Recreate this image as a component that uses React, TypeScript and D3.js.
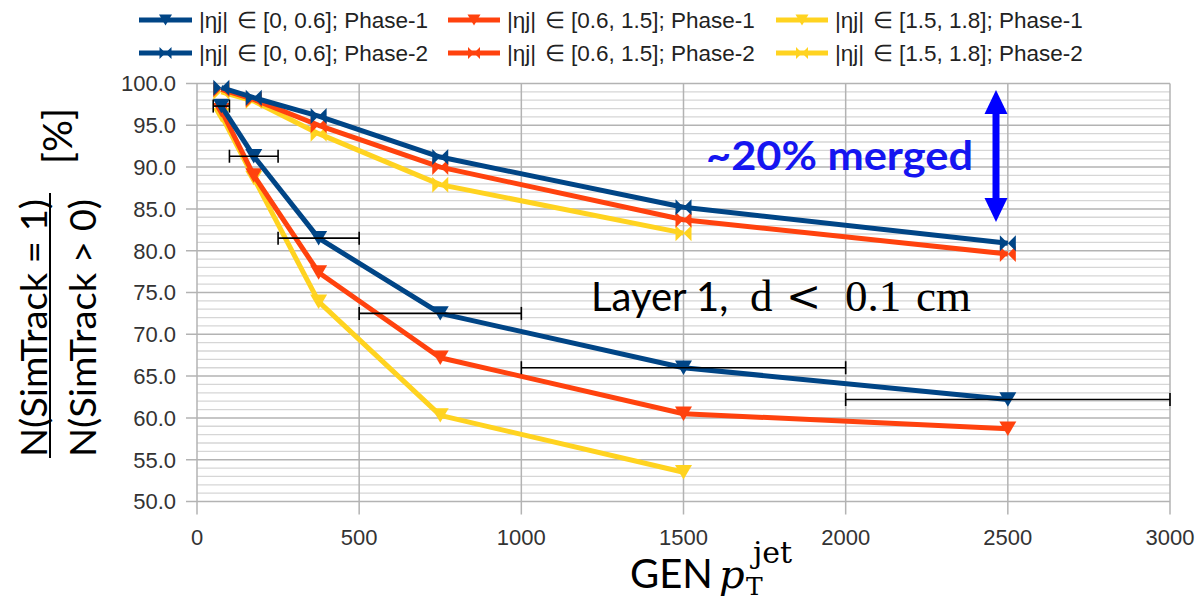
import React from "react";
import * as d3 from "d3";

// Generator-level jet pT bin centres and bin edges
const ptCentres = [75, 175, 375, 750, 1500, 2500];
const binLow = [50, 100, 250, 500, 1000, 2000];
const binHigh = [100, 250, 500, 1000, 2000, 3000];

// Fraction of clusters with exactly one SimTrack [%]
const phase1Central = [97.3, 91.3, 81.5, 72.5, 66.0, 62.2];
const phase1Mid = [96.8, 89.0, 77.4, 67.2, 60.5, 58.7];
const phase1Forward = [96.2, 88.7, 73.9, 60.3, 53.5];
const phase2Central = [99.5, 98.3, 96.1, 91.2, 85.2, 80.9];
const phase2Mid = [99.3, 98.1, 95.0, 90.0, 83.7, 79.6];
const phase2Forward = [99.0, 97.9, 94.0, 87.9, 82.1];

const etaRanges = ["[0, 0.6]", "[0.6, 1.5]", "[1.5, 1.8]"];
const phases = ["Phase-1", "Phase-2"];
const colours = ["#004586", "#ff420e", "#ffd320"];

const xTicks = [0, 500, 1000, 1500, 2000, 2500, 3000];
const yTicks = [50, 55, 60, 65, 70, 75, 80, 85, 90, 95, 100];

const W = 1199;
const H = 602;

const x = d3.scaleLinear().domain([0, 3000]).range([197, 1170]);
const y = d3.scaleLinear().domain([50, 100]).range([501.5, 83.5]);

type Pt = { x: number; y: number };
const toPts = (vals: number[]): Pt[] => vals.map((v, i) => ({ x: ptCentres[i], y: v }));

const line = d3
  .line<Pt>()
  .x((d) => x(d.x))
  .y((d) => y(d.y));

const triDown = (s: number) => `M${-s},${-s * 0.85}L${s},${-s * 0.85}L0,${s * 0.85}Z`;
const bowtie = (s: number) => `M${-s},${-s}L${s},${s}L${s},${-s}L${-s},${s}Z`;

const series = [
  { vals: phase1Forward, c: 2, phase: 0 },
  { vals: phase1Mid, c: 1, phase: 0 },
  { vals: phase1Central, c: 0, phase: 0 },
  { vals: phase2Forward, c: 2, phase: 1 },
  { vals: phase2Mid, c: 1, phase: 1 },
  { vals: phase2Central, c: 0, phase: 1 },
];

const legendLineX = [
  [139, 192],
  [448, 500],
  [776, 828],
];
const legendRowY = [20, 53];

export default function App() {
  const minorY = d3.range(50, 100.001, 1).filter((v) => Math.round(v) % 5 !== 0);

  return (
    <svg
      width={W}
      height={H}
      style={{ position: "absolute", left: 0, top: 0, background: "#fff" }}
      fontFamily="'Liberation Sans', Arial, sans-serif"
    >
      <rect width={W} height={H} fill="#fff" />

      {/* grid */}
      {minorY.map((v) => (
        <line key={"m" + v} x1={x(0)} x2={x(3000)} y1={y(v)} y2={y(v)} stroke="#d6d6d6" strokeWidth={1.3} />
      ))}
      {yTicks.map((v) => (
        <line key={"g" + v} x1={x(0) - 11} x2={x(3000)} y1={y(v)} y2={y(v)} stroke="#b3b3b3" strokeWidth={1.5} />
      ))}
      {xTicks.map((v) => (
        <line key={"v" + v} x1={x(v)} x2={x(v)} y1={y(100)} y2={y(50) + 13} stroke="#b3b3b3" strokeWidth={1.5} />
      ))}

      {/* tick labels */}
      {yTicks.map((v) => (
        <text key={"yl" + v} x={176} y={y(v)} dy="0.36em" textAnchor="end" fontSize={22} fill="#333">
          {v.toFixed(1)}
        </text>
      ))}
      {xTicks.map((v) => (
        <text key={"xl" + v} x={x(v)} y={537} dy="0.36em" textAnchor="middle" fontSize={22} fill="#333">
          {v}
        </text>
      ))}

      {/* series */}
      {series.map((s, i) => {
        const pts = toPts(s.vals);
        return (
          <g key={"s" + i}>
            <path d={line(pts) || ""} fill="none" stroke={colours[s.c]} strokeWidth={5} strokeLinejoin="round" />
            {pts.map((p, j) => (
              <path
                key={j}
                d={s.phase === 0 ? triDown(8.5) : bowtie(8)}
                transform={`translate(${x(p.x)},${y(p.y)})`}
                fill={colours[s.c]}
              />
            ))}
          </g>
        );
      })}

      {/* bin-width bars on the central Phase-1 series */}
      {phase1Central.map((v, i) => (
        <g key={"e" + i} stroke="#000" strokeWidth={1.6}>
          <line x1={x(binLow[i])} x2={x(binHigh[i])} y1={y(v)} y2={y(v)} />
          <line x1={x(binLow[i])} x2={x(binLow[i])} y1={y(v) - 6.5} y2={y(v) + 6.5} />
          <line x1={x(binHigh[i])} x2={x(binHigh[i])} y1={y(v) - 6.5} y2={y(v) + 6.5} />
        </g>
      ))}

      {/* legend */}
      {phases.map((ph, r) =>
        etaRanges.map((eta, c) => {
          const [lx1, lx2] = legendLineX[c];
          const ly = legendRowY[r];
          const mx = (lx1 + lx2) / 2;
          const tx = lx2 + 7;
          return (
            <g key={`lg${r}${c}`}>
              <line x1={lx1} x2={lx2} y1={ly} y2={ly} stroke={colours[c]} strokeWidth={5} />
              <path d={r === 0 ? triDown(6.5) : bowtie(6)} transform={`translate(${mx},${ly})`} fill={colours[c]} />
              <text y={ly} dy="0.36em" fontSize={22.5} fill="#222">
                <tspan x={tx}>|ηj|</tspan>
                <tspan x={tx + 38}>∈</tspan>
                <tspan x={tx + 64}>{`${eta}; ${ph}`}</tspan>
              </text>
            </g>
          );
        })
      )}

      {/* y-axis title */}
      <g fontFamily="Lato, 'Open Sans', sans-serif" fill="#000">
        <text transform="translate(47,328) rotate(-90)" textAnchor="middle" fontSize={37} textLength={258} lengthAdjust="spacingAndGlyphs">
          N(SimTrack = 1)
        </text>
        <line x1={50} x2={50} y1={193} y2={458} stroke="#000" strokeWidth={2} />
        <text transform="translate(96,328) rotate(-90)" textAnchor="middle" fontSize={37} textLength={258} lengthAdjust="spacingAndGlyphs">
          N(SimTrack &gt; 0)
        </text>
        <text transform="translate(72,136) rotate(-90)" textAnchor="middle" fontSize={40}>
          [%]
        </text>
      </g>

      {/* x-axis title */}
      <g fill="#000">
        <text x={630} y={588} fontFamily="Lato, 'Open Sans', sans-serif" fontSize={40}>
          GEN
        </text>
        <text x={719} y={588} fontFamily="'DejaVu Serif', serif" fontStyle="italic" fontSize={40}>
          p
        </text>
        <text x={746} y={595} fontFamily="'DejaVu Serif', serif" fontSize={25}>
          T
        </text>
        <text x={753} y={563} fontFamily="'DejaVu Serif', serif" fontSize={30}>
          jet
        </text>
      </g>

      {/* annotations */}
      <text x={706} y={170} fontFamily="Lato, 'Open Sans', sans-serif" fontWeight="bold" fontSize={41} fill="#1515f0" textLength={267} lengthAdjust="spacingAndGlyphs">
        ~20% merged
      </text>
      <g fill="#0000ff">
        <rect x={992.5} y={110} width={7} height={92} />
        <path d="M996,90L984.5,114L1007.5,114Z" />
        <path d="M996,222L984.5,198L1007.5,198Z" />
      </g>

      <text y={311} fill="#000">
        <tspan x={591} fontFamily="Lato, 'Open Sans', sans-serif" fontSize={40}>Layer 1,</tspan>
        <tspan x={750} fontFamily="'Liberation Serif', serif" fontSize={45}>d</tspan>
        <tspan x={786} fontFamily="'DejaVu Serif', serif" fontSize={42}>&lt;</tspan>
        <tspan x={845} fontFamily="'Liberation Serif', serif" fontSize={45}>0.1</tspan>
        <tspan x={916} fontFamily="'Liberation Serif', serif" fontSize={45}>cm</tspan>
      </text>
    </svg>
  );
}
